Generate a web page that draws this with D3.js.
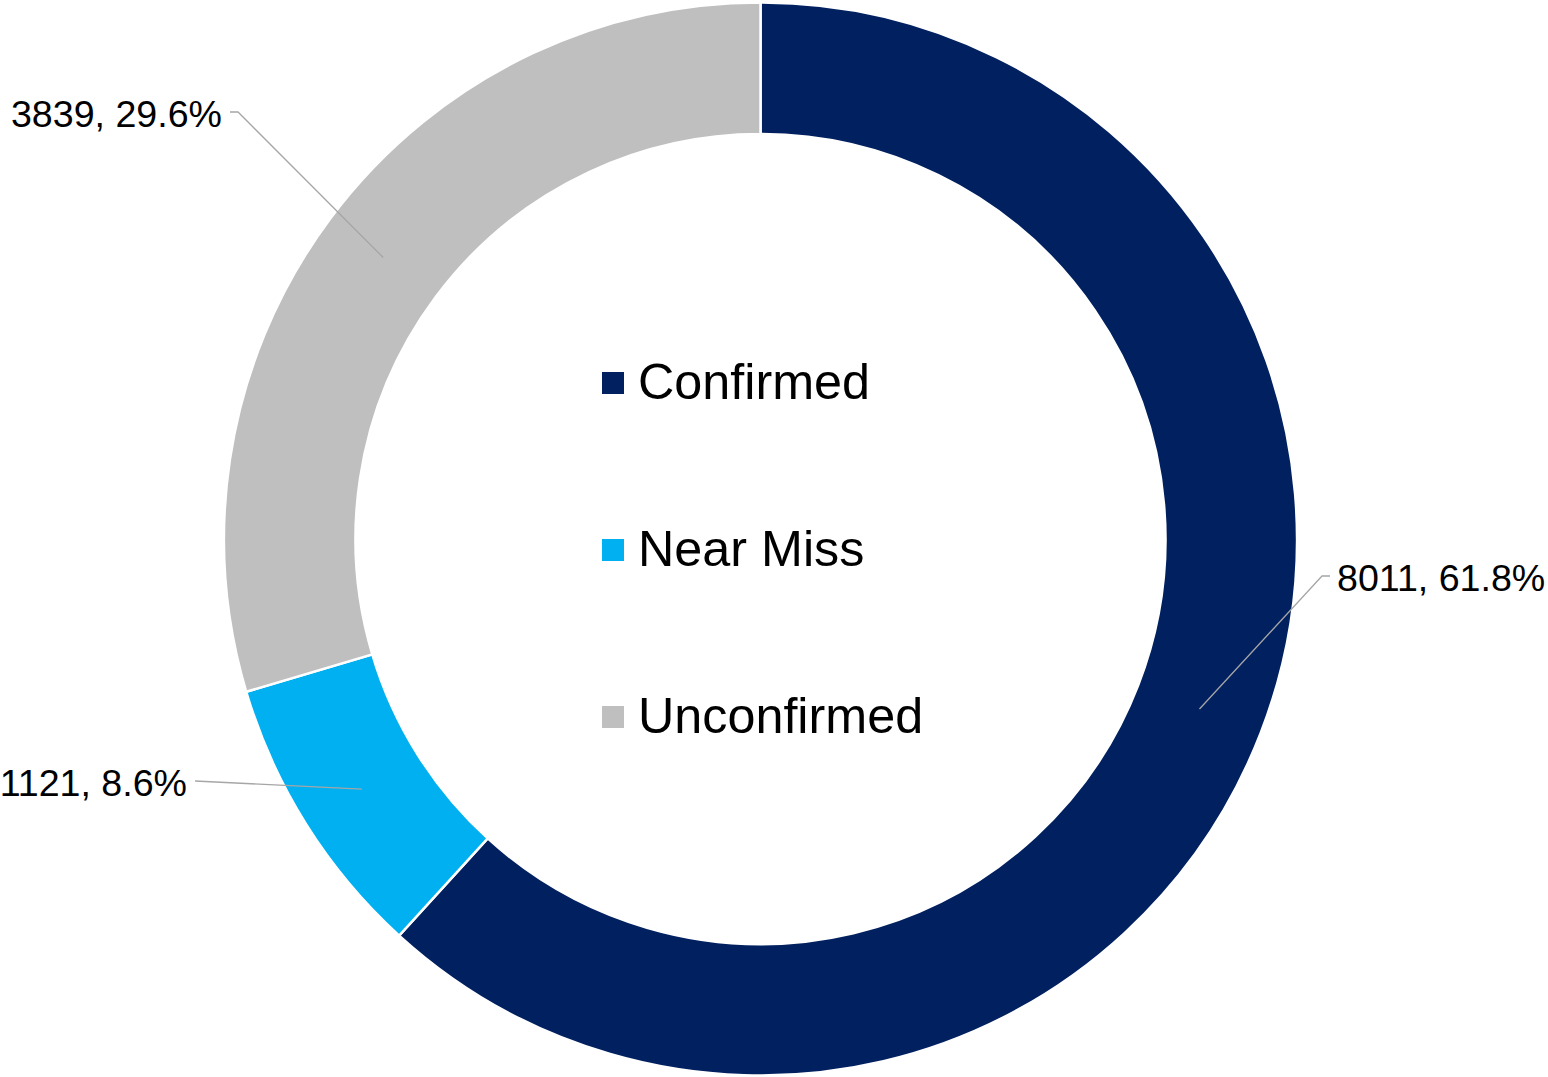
<!DOCTYPE html>
<html>
<head>
<meta charset="utf-8">
<script src="https://cdn.jsdelivr.net/npm/d3@7"></script>
<style>
  body { margin: 0; background: #fff; }
  text { font-family: "Liberation Sans", Arial, sans-serif; fill: #000; }
</style>
</head>
<body>
<div id="chart"></div>
<script>
var categories = ['Confirmed', 'Near Miss', 'Unconfirmed'];
var values = [8011, 1121, 3839];
var colors = ['#002060', '#00B0F0', '#BFBFBF'];

var width = 1548;
var height = 1077;
var cx = 760.5, cy = 539;
var outerR = 536.5, innerR = 405;

// where each label's leader line bends (elbow), and which side the text sits on
var labelLayout = [
  {x: 1322, y: 576, tick: 8, side: 'right'},
  {x: 195, y: 781, tick: 0, side: 'left'},
  {x: 238, y: 112, tick: 8, side: 'left'}
];

var total = d3.sum(values);

var svg = d3.select('#chart').append('svg')
    .attr('width', width)
    .attr('height', height);

var g = svg.append('g')
    .attr('transform', 'translate(' + cx + ',' + cy + ')');

var pie = d3.pie().sort(null).value(function(d){ return d; });
var arcs = pie(values);

var arc = d3.arc().innerRadius(innerR).outerRadius(outerR);

g.selectAll('path.slice')
    .data(arcs)
    .enter().append('path')
      .attr('class', 'slice')
      .attr('d', arc)
      .attr('fill', function(d,i){ return colors[i]; })
      .attr('stroke', '#fff')
      .attr('stroke-width', 2.5)
      .attr('stroke-linejoin', 'miter');

// leader lines
g.selectAll('polyline.leader')
    .data(arcs)
    .enter().append('polyline')
      .attr('class', 'leader')
      .attr('fill', 'none')
      .attr('stroke', '#A6A6A6')
      .attr('stroke-width', 1.3)
      .attr('points', function(d,i){
        var c = arc.centroid(d);
        var L = labelLayout[i];
        var ex = L.x - cx, ey = L.y - cy;
        var tx = L.side == 'right' ? ex + L.tick : ex - L.tick;
        return [c, [ex, ey], [tx, ey]].map(function(p){ return p.join(','); }).join(' ');
      });

// data labels
g.selectAll('text.label')
    .data(arcs)
    .enter().append('text')
      .attr('class', 'label')
      .attr('x', function(d,i){
        var L = labelLayout[i];
        return L.side == 'right' ? L.x - cx + L.tick + 7 : L.x - cx - L.tick - 8;
      })
      .attr('y', function(d,i){ return labelLayout[i].y - cy + 15; })
      .attr('text-anchor', function(d,i){ return labelLayout[i].side == 'right' ? 'start' : 'end'; })
      .attr('font-size', 37.6)
      .text(function(d,i){
        return values[i] + ', ' + (values[i] / total * 100).toFixed(1) + '%';
      });

// legend in the hole
var legend = svg.append('g')
    .attr('transform', 'translate(602,372)');

var item = legend.selectAll('g.item')
    .data(categories)
    .enter().append('g')
      .attr('class', 'item')
      .attr('transform', function(d,i){ return 'translate(0,' + (i*167) + ')'; });

item.append('rect')
    .attr('width', 22)
    .attr('height', 22)
    .attr('fill', function(d,i){ return colors[i]; });

item.append('text')
    .attr('x', 36)
    .attr('y', 27)
    .attr('font-size', 50.3)
    .text(function(d){ return d; });
</script>
</body>
</html>
